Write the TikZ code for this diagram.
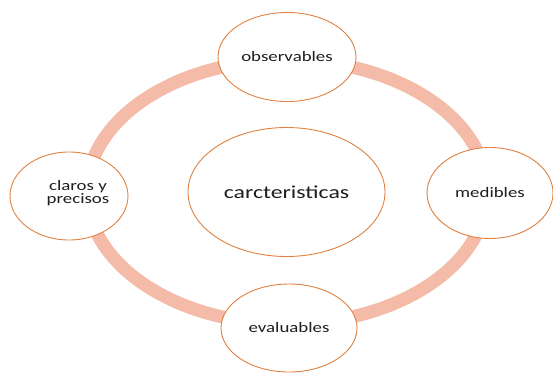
\documentclass[tikz,border=0pt]{standalone}
\usepackage{fontspec}
\newfontfamily\lblfont[FakeStretch=1.3]{Carlito}
\definecolor{ringcol}{HTML}{F4BCA8}
\definecolor{edgecol}{HTML}{E0803F}
\definecolor{txtcol}{HTML}{1E1E1E}
\begin{document}
\begin{tikzpicture}[x=1pt,y=-1pt,
  bubble/.style={ellipse, draw=edgecol, line width=0.9pt, fill=white, inner sep=0pt, text=txtcol},
  small/.style={font=\lblfont\fontsize{14.5}{13.5}\selectfont},
  big/.style={font=\lblfont\fontsize{18.3}{20}\selectfont}]
\usetikzlibrary{shapes.geometric}
\useasboundingbox (0,0) rectangle (553,372);
\draw[ringcol, line width=13pt] (287,192) ellipse [x radius=200, y radius=132];
\node[bubble, big, minimum width=197pt, minimum height=129pt] (c) at (286.5,192) {carcteristicas};
\node[bubble, small, minimum width=138pt, minimum height=89pt] (t) at (287,57) {observables};
\node[bubble, small, minimum width=126pt, minimum height=91pt] (r) at (490,193) {medibles};
\node[bubble, small, minimum width=136pt, minimum height=88pt] (b) at (289,328) {evaluables};
\node[bubble, small, minimum width=118pt, minimum height=88pt] (l) at (69,196) {};
\node[small, text=txtcol, align=center, inner sep=0pt] (lt) at (78,193) {claros y\\precisos};
\end{tikzpicture}
\end{document}
